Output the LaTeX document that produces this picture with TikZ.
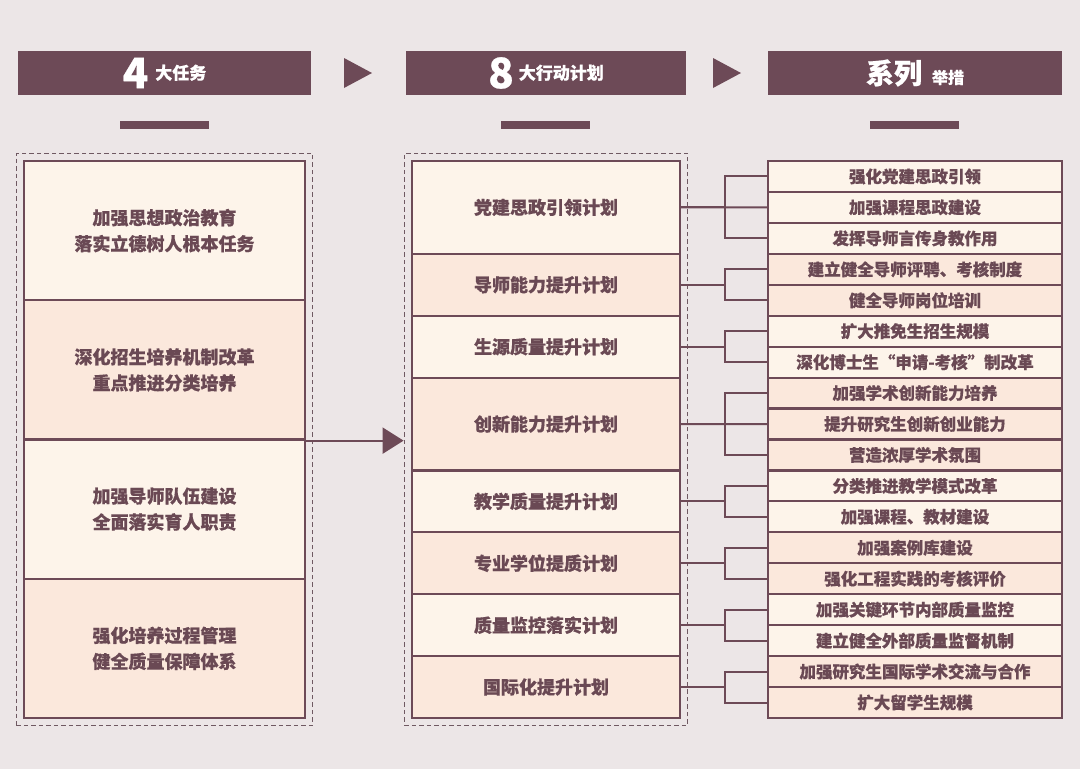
\documentclass[tikz,border=0pt]{standalone}
\usepackage{fontspec}
\setmainfont{Noto Sans CJK SC}[BoldFeatures={FakeBold=0.6}]
\usetikzlibrary{arrows.meta,fit}
\definecolor{bg}{HTML}{ECE6E7}
\definecolor{mauve}{HTML}{6D4A57}
\definecolor{txt}{HTML}{6A4954}
\definecolor{lite}{HTML}{FDF4EA}
\definecolor{peach}{HTML}{FBE8DC}
\definecolor{dashc}{HTML}{6F5962}
\begin{document}
\begin{tikzpicture}[x=1pt,y=-1pt,
  hdr/.style={fill=mauve,minimum width=293pt,minimum height=44pt,inner sep=0pt,text=white,font=\bfseries},
  uline/.style={fill=mauve,minimum width=89pt,minimum height=8pt,inner sep=0pt},
  lbox/.style={draw=mauve,line width=2.2pt,minimum width=281pt,minimum height=139.25pt,inner sep=0pt,align=center,text=txt,font=\bfseries\fontsize{18}{26}\selectfont},
  mbox/.style={draw=mauve,line width=2.2pt,minimum width=268pt,inner sep=0pt,text=txt,font=\bfseries\fontsize{18}{22}\selectfont},
  rbox/.style={draw=mauve,line width=2.2pt,minimum width=294pt,minimum height=30.944pt,inner sep=0pt,text=txt,font=\bfseries\fontsize{16.5}{20}\selectfont},
  dashbox/.style={draw=dashc,line width=1.6pt,dash pattern=on 4.5pt off 3pt,inner sep=6.5pt},
  conn/.style={draw=mauve,line width=2pt},
]
\useasboundingbox[fill=bg] (0,0) rectangle (1080,769);
% headers
\node[hdr] (h1) at (164.5,73) {\fontsize{42}{42}\selectfont 4\hspace{7pt}\raisebox{9pt}{\fontsize{17}{17}\selectfont 大任务}};
\node[hdr,minimum width=280pt] (h2) at (546,73) {\fontsize{42}{42}\selectfont 8\hspace{5pt}\raisebox{9pt}{\fontsize{17}{17}\selectfont 大行动计划}};
\node[hdr,minimum width=294pt] (h3) at (915,73) {\fontsize{28}{28}\selectfont 系列\hspace{10pt}\fontsize{16}{16}\selectfont 举措};
\fill[mauve] (344,58) -- (372,73) -- (344,88) -- cycle;
\fill[mauve] (713,58) -- (741,73) -- (713,88) -- cycle;
\node[uline] (u1) at (164.5,125) {};
\node[uline] (u2) at (545.5,125) {};
\node[uline] (u3) at (914.5,125) {};
% left boxes
\node[lbox,fill=lite]  (l1) at (164.5,230.6) {加强思想政治教育\\落实立德树人根本任务};
\node[lbox,fill=peach] (l2) at (164.5,369.9) {深化招生培养机制改革\\重点推进分类培养};
\node[lbox,fill=lite]  (l3) at (164.5,509.1) {加强导师队伍建设\\全面落实育人职责};
\node[lbox,fill=peach] (l4) at (164.5,648.4) {强化培养过程管理\\健全质量保障体系};
\node[dashbox,fit=(l1)(l4)] (left) {};
% middle boxes
\node[mbox,fill=lite, minimum height=92.83pt] (m1) at (546,207.42) {党建思政引领计划};
\node[mbox,fill=peach,minimum height=61.89pt] (m2) at (546,284.78) {导师能力提升计划};
\node[mbox,fill=lite, minimum height=61.89pt] (m3) at (546,346.67) {生源质量提升计划};
\node[mbox,fill=peach,minimum height=92.83pt] (m4) at (546,424.03) {创新能力提升计划};
\node[mbox,fill=lite, minimum height=61.89pt] (m5) at (546,501.39) {教学质量提升计划};
\node[mbox,fill=peach,minimum height=61.89pt] (m6) at (546,563.28) {专业学位提质计划};
\node[mbox,fill=lite, minimum height=61.89pt] (m7) at (546,625.17) {质量监控落实计划};
\node[mbox,fill=peach,minimum height=61.89pt] (m8) at (546,687.06) {国际化提升计划};
\node[dashbox,fit=(m1)(m8)] (mid) {};
% right boxes
\foreach \t/\c [count=\i] in {强化党建思政引领/lite,加强课程思政建设/lite,发挥导师言传身教作用/lite,
  建立健全导师评聘、考核制度/peach,健全导师岗位培训/peach,
  扩大推免生招生规模/lite,深化博士生“申请-考核”制改革/lite,
  加强学术创新能力培养/peach,提升研究生创新创业能力/peach,营造浓厚学术氛围/peach,
  分类推进教学模式改革/lite,加强课程、教材建设/lite,
  加强案例库建设/peach,强化工程实践的考核评价/peach,
  加强关键环节内部质量监控/lite,建立健全外部质量监督机制/lite,
  加强研究生国际学术交流与合作/peach,扩大留学生规模/peach}
  \node[rbox,fill=\c] (r\i) at (915,{161+30.944*(\i-0.5)}) {\t};
% connectors
\coordinate (bx) at (725,0);
\foreach \m/\a/\b in {m1/r1/r3,m2/r4/r5,m3/r6/r7,m4/r8/r10,m5/r11/r12,m6/r13/r14,m7/r15/r16,m8/r17/r18}{
  \draw[conn] (\a.west) -- (\a.west -| bx) |- (\b.west);
  \draw[conn] (\m.east) -- (\m.east -| bx);
}
\draw[conn] (m1.east) -- (r2.west);
\draw[conn] (m4.east) -- (r9.west);
% main arrow
\draw[conn,-{Triangle[length=21pt,width=26pt]}] (l2.south east) -- (l2.south east -| mid.west);
\end{tikzpicture}
\end{document}
